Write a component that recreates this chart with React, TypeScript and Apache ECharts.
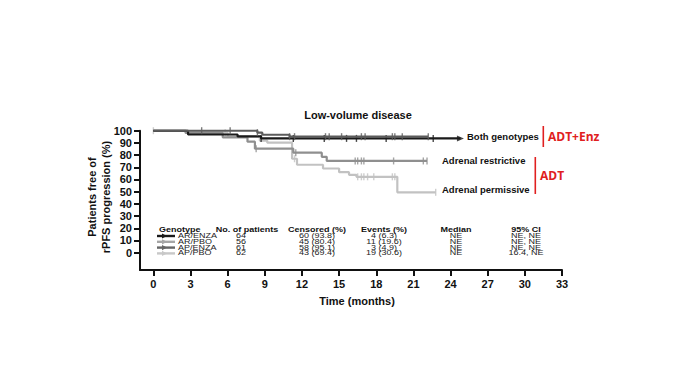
import React, { useEffect, useRef } from "react";
import * as echarts from "echarts";

// ---- Data ----
const xTicks = [0, 3, 6, 9, 12, 15, 18, 21, 24, 27, 30, 33];
const yTicks = [0, 10, 20, 30, 40, 50, 60, 70, 80, 90, 100];

// KM step curves: [time (months), survival %]
const apPbo: [number, number][] = [
  [0, 100], [2.7, 98.4], [6.0, 95.1], [8.6, 91.8], [9.2, 90.2], [11.2, 77.0], [11.6, 72.1],
  [13.7, 69.0], [15.0, 66.0], [15.8, 63.8], [16.4, 62.2], [19.7, 49.5], [22.8, 49.5],
];
const arPbo: [number, number][] = [
  [0, 100], [2.6, 98.2], [5.6, 94.6], [7.6, 91.0], [8.2, 85.3], [11.3, 82.0], [13.6, 78.6],
  [14.0, 75.2], [22.1, 75.2],
];
const arEnza: [number, number][] = [
  [0, 100], [2.8, 96.9], [6.8, 95.3], [8.7, 93.7], [24.8, 93.7],
];
const apEnza: [number, number][] = [
  [0, 100], [8.4, 98.4], [8.8, 96.7], [11.0, 95.1], [22.2, 95.1],
];

// censoring times (months)
const apPboCens = [0, 5.8, 11.4, 16.5, 16.8, 17.0, 17.3, 17.8, 19.3, 19.5, 22.8];
const arPboCens = [8.3, 11.5, 16.3, 16.5, 16.8, 17.0, 19.4, 21.8, 22.1];
const arEnzaCens = [8.7, 11.3, 13.8, 15.6, 16.4, 18.8, 22.6];
const apEnzaCens = [3.9, 6.2, 8.4, 11.0, 11.4, 13.9, 14.2, 15.2, 16.8, 17.1, 19.3, 19.5, 20.1, 22.2];

// table
const genotypes = ["AR/ENZA", "AR/PBO", "AP/ENZA", "AP/PBO"];
const patients = ["64", "56", "61", "62"];
const censored = ["60 (93.8)", "45 (80.4)", "58 (95.1)", "43 (69.4)"];
const events = ["4 (6.3)", "11 (19.6)", "3 (4.9)", "19 (30.6)"];
const medians = ["NE", "NE", "NE", "NE"];
const cis = ["NE, NE", "NE, NE", "NE, NE", "16.4, NE"];
const headers = ["Genotype", "No. of patients", "Censored (%)", "Events (%)", "Median", "95% CI"];

const COLORS = {
  arEnza: "#1a1a1a",
  arPbo: "#8f8f8f",
  apEnza: "#5c5c5c",
  apPbo: "#c2c2c2",
};
const legendColors = [COLORS.arEnza, "#a6a6a6", "#666666", "#c8c8c8"];

const FONT = '"Liberation Sans", Arial, Helvetica, sans-serif';

function valueAt(curve: [number, number][], t: number) {
  let v = curve[0][1];
  for (const [x, y] of curve) if (x <= t) v = y;
  return v;
}

function lineSeries(name: string, curve: [number, number][], color: string, z: number) {
  return {
    name,
    type: "line",
    step: "end",
    data: curve,
    showSymbol: false,
    symbol: "none",
    lineStyle: { color, width: 2.2 },
    z,
  };
}
function censSeries(curve: [number, number][], times: number[], color: string, z: number) {
  return {
    type: "scatter",
    data: times.map((t) => [t, valueAt(curve, t)]),
    symbol: "rect",
    symbolSize: [1.4, 7],
    itemStyle: { color },
    z,
  };
}

export default function App() {
  const ref = useRef<HTMLDivElement>(null);
  useEffect(() => {
    if (!ref.current) return;
    const chart = echarts.init(ref.current, undefined, { renderer: "svg" });

    const colX = [0, 241, 317, 384, 456, 526];
    const rowY0 = 236;
    const rowStep = 5.8;
    const graphics: any[] = [];
    // headers
    headers.forEach((h, i) => {
      graphics.push({
        type: "text",
        x: i === 0 ? 159 : i === 1 ? 247 : colX[i],
        y: 229,
        scaleY: 0.85,
        style: {
          text: h,
          font: `bold 9px ${FONT}`,
          fill: "#111",
          align: i === 0 ? "left" : "center",
          verticalAlign: "middle",
        },
      });
    });
    const cols = [genotypes, patients, censored, events, medians, cis];
    for (let r = 0; r < 4; r++) {
      const y = rowY0 + r * rowStep;
      // legend sample line with arrow
      graphics.push({
        type: "line",
        shape: { x1: 157, y1: y, x2: 175, y2: y },
        style: { stroke: legendColors[r], lineWidth: 2.4 },
      });
      graphics.push({
        type: "polygon",
        shape: { points: [[162, y - 2.6], [167, y], [162, y + 2.6]] },
        style: { fill: legendColors[r] },
      });
      cols.forEach((col, c) => {
        graphics.push({
          type: "text",
          x: c === 0 ? 178 : colX[c],
          y,
          scaleY: 0.72,
          style: {
            text: col[r],
            font: `9px ${FONT}`,
            fill: "#222",
            align: c === 0 ? "left" : "center",
            verticalAlign: "middle",
          },
        });
      });
    }
    // titles
    graphics.push(
      {
        type: "text",
        x: 358,
        y: 115,
        style: { text: "Low-volume disease", font: `bold 11px ${FONT}`, fill: "#111", align: "center", verticalAlign: "middle" },
      },
      {
        type: "text",
        x: 357,
        y: 301,
        style: { text: "Time (months)", font: `bold 11px ${FONT}`, fill: "#111", align: "center", verticalAlign: "middle" },
      },
      {
        type: "text",
        x: 99,
        y: 197,
        rotation: Math.PI / 2,
        style: {
          text: "Patients free of\nrPFS progression (%)",
          font: `bold 11px ${FONT}`,
          fill: "#111",
          align: "center",
          verticalAlign: "middle",
          lineHeight: 14,
        },
      },
      // annotations
      {
        type: "text",
        x: 467,
        y: 136,
        style: { text: "Both genotypes", font: `bold 9.5px ${FONT}`, fill: "#111", align: "left", verticalAlign: "middle" },
      },
      {
        type: "text",
        x: 442,
        y: 160,
        style: { text: "Adrenal restrictive", font: `bold 9.5px ${FONT}`, fill: "#111", align: "left", verticalAlign: "middle" },
      },
      {
        type: "text",
        x: 442,
        y: 189,
        style: { text: "Adrenal permissive", font: `bold 9.5px ${FONT}`, fill: "#111", align: "left", verticalAlign: "middle" },
      },
      { type: "rect", shape: { x: 542.5, y: 126, width: 1.6, height: 21 }, style: { fill: "#e02020" } },
      {
        type: "text",
        x: 548,
        y: 136,
        style: { text: "ADT+Enz", font: `bold 12px "Open Sans", ${FONT}`, fill: "#e02020", align: "left", verticalAlign: "middle" },
      },
      { type: "rect", shape: { x: 534.5, y: 157, width: 1.6, height: 37 }, style: { fill: "#e02020" } },
      {
        type: "text",
        x: 540,
        y: 175,
        style: { text: "ADT", font: `bold 12px "Open Sans", ${FONT}`, fill: "#e02020", align: "left", verticalAlign: "middle" },
      }
    );

    const axisLine = { show: true, onZero: false, lineStyle: { color: "#111", width: 2 } };

    chart.setOption({
      animation: false,
      grid: { left: 140, right: 118, top: 130.7, bottom: 113, containLabel: false },
      xAxis: {
        type: "value",
        min: -1.08,
        max: 33,
        axisLine,
        splitLine: { show: false },
        axisTick: { show: true, customValues: xTicks, length: 6, lineStyle: { color: "#111", width: 2 } },
        axisLabel: {
          customValues: xTicks,
          fontFamily: FONT,
          fontWeight: "bold",
          fontSize: 11,
          color: "#111",
          margin: 8,
        },
      },
      yAxis: {
        type: "value",
        min: -14.2,
        max: 100,
        axisLine,
        splitLine: { show: false },
        axisTick: { show: true, customValues: yTicks, length: 6, lineStyle: { color: "#111", width: 2 } },
        axisLabel: {
          customValues: yTicks,
          fontFamily: FONT,
          fontWeight: "bold",
          fontSize: 11,
          color: "#111",
          margin: 8,
        },
      },
      series: [
        lineSeries("AP/PBO", apPbo, COLORS.apPbo, 2),
        censSeries(apPbo, apPboCens, COLORS.apPbo, 2),
        lineSeries("AR/PBO", arPbo, COLORS.arPbo, 3),
        censSeries(arPbo, arPboCens, COLORS.arPbo, 3),
        lineSeries("AR/ENZA", arEnza, COLORS.arEnza, 4),
        censSeries(arEnza, arEnzaCens, COLORS.arEnza, 4),
        {
          type: "scatter",
          data: [arEnza[arEnza.length - 1]],
          symbol: "triangle",
          symbolRotate: -90,
          symbolSize: [6, 7],
          itemStyle: { color: COLORS.arEnza },
          z: 4,
        },
        lineSeries("AP/ENZA", apEnza, COLORS.apEnza, 5),
        censSeries(apEnza, apEnzaCens, COLORS.apEnza, 5),
      ],
      graphic: graphics,
    });
    return () => chart.dispose();
  }, []);
  return <div ref={ref} style={{ position: "fixed", left: 0, top: 0, width: 680, height: 383, background: "#fff" }} />;
}
